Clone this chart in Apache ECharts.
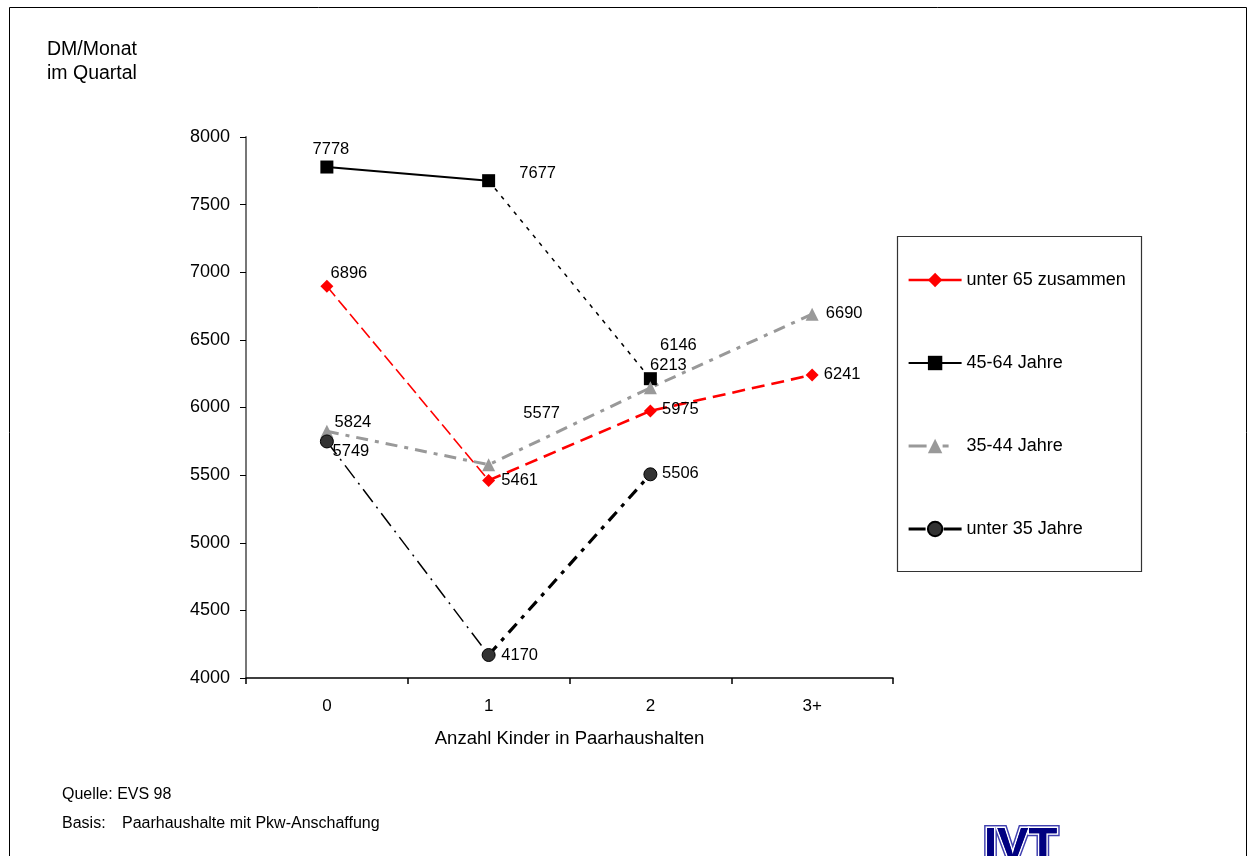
<!DOCTYPE html>
<html>
<head>
<meta charset="utf-8">
<script src="https://cdn.jsdelivr.net/npm/echarts@6/dist/echarts.min.js"></script>
<style>
  html, body { margin: 0; padding: 0; background: #fff; }
  #chart { width: 1250px; height: 856px; }
</style>
</head>
<body>
<div id="chart"></div>
<script>
// Categories: number of children in couple households
const categories = ['0', '1', '2', '3+'];

// Monthly expenditure (DM per month, quarterly survey) by age group
const unter65 = [6896, 5461, 5975, 6241];
const jahre45_64 = [7778, 7677, 6213, null];
const jahre35_44 = [5824, 5577, 6146, 6690];
const unter35 = [5749, 4170, 5506, null];

const yTicks = { min: 4000, max: 8000, step: 500 };

const FONT = '"Liberation Sans", Arial, sans-serif';

// label placement (label centre relative to the point, px)
const labelShift = {
  unter65: [[22, -13], [31, 0], [30, -1], [30, 0]],
  j4564: [[4, -18], [49, -7], [18, -13]],
  j3544: [[26, -9], [53, -51], [28, -42], [32, -1]],
  unter35: [[24, 10], [31, 0], [30, -1]]
};

// keep only the points between index i and j (default: one segment)
function segment(values, i, j) {
  const end = j === undefined ? i + 1 : j;
  return values.map((v, k) => (k >= i && k <= end ? v : null));
}

function labelled(values, shifts) {
  return values.map((v, k) => v == null ? null : {
    value: v,
    label: { show: true, position: 'inside', offset: shifts[k], formatter: String(v),
             color: '#000', fontSize: 16.5, fontFamily: FONT }
  });
}

function lineSeg(name, data, style) {
  return {
    name: name, type: 'line', data: data, symbol: 'none', silent: true,
    connectNulls: false, lineStyle: style, itemStyle: { color: style.color },
    z: 2, animation: false
  };
}

function markers(name, data, shifts, symbol, size, color, border) {
  return {
    name: name, type: 'line', data: labelled(data, shifts),
    symbol: symbol, symbolSize: size, showAllSymbol: true,
    itemStyle: { color: color, borderColor: border || color, borderWidth: border ? 1 : 0, opacity: 1 },
    lineStyle: { opacity: 0, width: 0, color: color },
    z: 5, animation: false
  };
}

const RED = '#ff0000', BLACK = '#000000', GREY = '#999999', DARK = '#333333';

const N1 = 'unter 65 zusammen', N2 = '45-64 Jahre', N3 = '35-44 Jahre', N4 = 'unter 35 Jahre';

const series = [
  // markers + value labels (listed first so the legend takes their symbols)
  markers(N1, unter65, labelShift.unter65, 'diamond', 13, RED),
  markers(N2, jahre45_64, labelShift.j4564, 'rect', 13, BLACK),
  markers(N3, jahre35_44, labelShift.j3544, 'triangle', 13, GREY),
  markers(N4, unter35, labelShift.unter35, 'circle', 13, DARK, BLACK),
  // unter 65 zusammen
  lineSeg(N1, segment(unter65, 0), { color: RED, width: 1.6, type: [13, 5] }),
  lineSeg(N1, segment(unter65, 1, 3), { color: RED, width: 2.6, type: [13, 7] }),
  // 45-64
  lineSeg(N2, segment(jahre45_64, 0), { color: BLACK, width: 2, type: 'solid' }),
  lineSeg(N2, segment(jahre45_64, 1), { color: BLACK, width: 1.5, type: [4, 6] }),
  // 35-44
  lineSeg(N3, jahre35_44, { color: GREY, width: 3, type: [12, 7, 4, 7] }),
  // unter 35
  lineSeg(N4, segment(unter35, 0), { color: BLACK, width: 1.5, type: [16, 6, 2, 6] }),
  lineSeg(N4, segment(unter35, 1), { color: BLACK, width: 3.2, type: [12, 7, 4, 7] })
];

const chart = echarts.init(document.getElementById('chart'), null, { renderer: 'canvas' });

chart.setOption({
  backgroundColor: '#ffffff',
  animation: false,
  textStyle: { fontFamily: FONT },
  title: {
    text: 'DM/Monat\nim Quartal',
    left: 42, top: 33,
    textStyle: { fontSize: 19.5, fontWeight: 'normal', color: '#000', lineHeight: 24, fontFamily: FONT }
  },
  grid: { left: 246, right: 357, top: 137, bottom: 178, containLabel: false },
  xAxis: {
    type: 'category', data: categories, boundaryGap: true,
    name: 'Anzahl Kinder in Paarhaushalten', nameLocation: 'middle', nameGap: 51,
    nameTextStyle: { fontSize: 18.5, color: '#000', fontFamily: FONT },
    axisLine: { lineStyle: { color: '#000', width: 1.5 } },
    axisTick: { show: true, alignWithLabel: false, length: 6, lineStyle: { color: '#000', width: 1.5 } },
    axisLabel: { fontSize: 17, color: '#000', margin: 20, fontFamily: FONT },
    splitLine: { show: false }
  },
  yAxis: {
    type: 'value', min: yTicks.min, max: yTicks.max, interval: yTicks.step,
    axisLine: { show: true, lineStyle: { color: '#777', width: 2 } },
    axisTick: { show: true, length: 6, lineStyle: { color: '#000', width: 1 } },
    axisLabel: { fontSize: 18, color: '#000', margin: 16, fontFamily: FONT,
                 formatter: v => String(v) },
    splitLine: { show: false }
  },
  legend: {
    orient: 'vertical', left: 902, top: 266,
    itemWidth: 53, itemHeight: 18, itemGap: 65,
    textStyle: { fontSize: 18, color: '#000', fontFamily: FONT },
    data: [
      { name: N1, lineStyle: { color: RED, width: 2.6, type: 'solid', opacity: 1 } },
      { name: N2, lineStyle: { color: BLACK, width: 2, type: 'solid', opacity: 1 } },
      { name: N3, lineStyle: { color: GREY, width: 3, type: [18, 16, 6, 20], opacity: 1 } },
      { name: N4, lineStyle: { color: BLACK, width: 3.2, type: [17, 18, 20, 20], opacity: 1 } }
    ]
  },
  graphic: [
    // outer frame
    { type: 'rect', silent: true, z: 0,
      shape: { x: 9.5, y: 7.5, width: 1237, height: 900 },
      style: { fill: 'none', stroke: '#000', lineWidth: 1 } },
    // legend box
    { type: 'rect', silent: true, z: 0,
      shape: { x: 897.5, y: 236.5, width: 244, height: 335 },
      style: { fill: '#fff', stroke: '#333', lineWidth: 1.2 } },
    // notes
    { type: 'text', silent: true, left: 62, top: 787,
      style: { text: 'Quelle: EVS 98', fontSize: 16, fill: '#000', fontFamily: FONT } },
    { type: 'text', silent: true, left: 62, top: 816,
      style: { text: 'Basis:', fontSize: 16, fill: '#000', fontFamily: FONT } },
    { type: 'text', silent: true, left: 122, top: 816,
      style: { text: 'Paarhaushalte mit Pkw-Anschaffung', fontSize: 16, fill: '#000', fontFamily: FONT } },
    // IVT logo (bottom, partly cut off)
    { type: 'text', silent: true, x: 984, y: 824, z: 10,
      style: { text: 'IVT', fontSize: 47, fontWeight: 'bold', fontFamily: FONT,
               fill: '#000080', stroke: '#4040b0', lineWidth: 6, textVerticalAlign: 'top' } },
    { type: 'text', silent: true, x: 984, y: 824, z: 11,
      style: { text: 'IVT', fontSize: 47, fontWeight: 'bold', fontFamily: FONT,
               fill: '#000080', stroke: '#ffffff', lineWidth: 3, textVerticalAlign: 'top' } },
    { type: 'text', silent: true, x: 984, y: 824, z: 12,
      style: { text: 'IVT', fontSize: 47, fontWeight: 'bold', fontFamily: FONT,
               fill: '#000080', textVerticalAlign: 'top' } }
  ],
  series: series
});
</script>
</body>
</html>
